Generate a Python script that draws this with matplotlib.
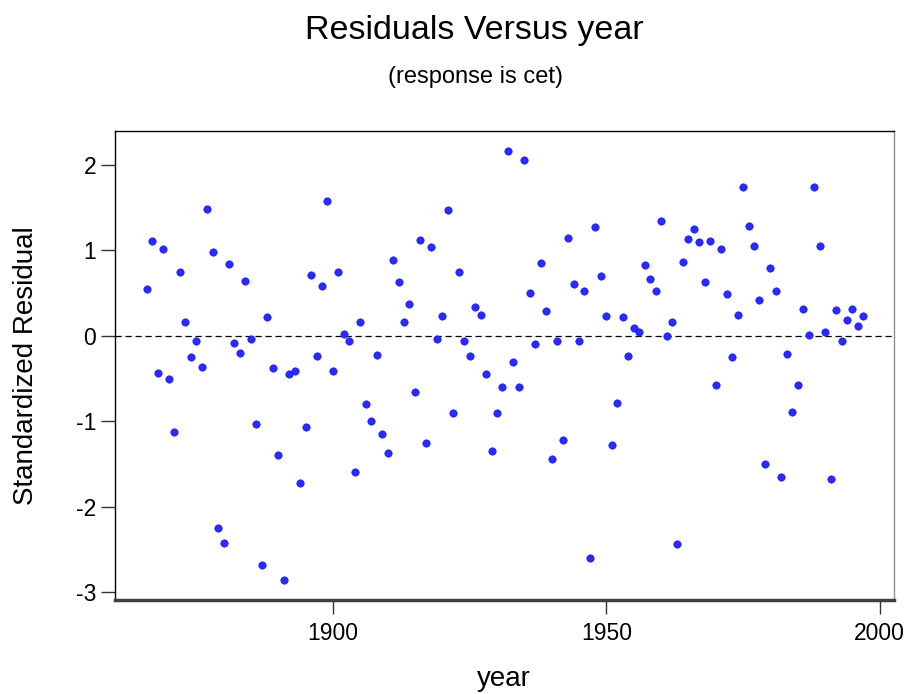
from matplotlib import pyplot as plt

plt.rcParams['font.family'] = ['Liberation Sans', 'DejaVu Sans']
plt.rcParams['axes.unicode_minus'] = False

years = list(range(1866, 1998))
residuals = [
    0.55, 1.11, -0.43, 1.02, -0.50, -1.13, 0.75, 0.16, -0.25, -0.06,
    -0.36, 1.48, 0.98, -2.25, -2.42, 0.84, -0.08, -0.20, 0.64, -0.04,
    -1.03, -2.68, 0.22, -0.37, -1.39, -2.85, -0.44, -0.41, -1.72, -1.07,
    0.71, -0.23, 0.58, 1.58, -0.41, 0.75, 0.02, -0.06, -1.59, 0.16,
    -0.80, -1.00, -0.22, -1.15, -1.37, 0.89, 0.63, 0.16, 0.37, -0.66,
    1.12, -1.25, 1.04, -0.04, 0.23, 1.47, -0.90, 0.75, -0.06, -0.24,
    0.34, 0.25, -0.44, -1.35, -0.90, -0.60, 2.16, -0.31, -0.60, 2.06,
    0.50, -0.10, 0.85, 0.29, -1.44, -0.06, -1.22, 1.15, 0.61, -0.06,
    0.52, -2.60, 1.27, 0.70, 0.23, -1.28, -0.79, 0.22, -0.24, 0.09,
    0.04, 0.83, 0.67, 0.52, 1.34, 0.00, 0.16, -2.44, 0.87, 1.13,
    1.25, 1.10, 0.63, 1.11, -0.58, 1.02, 0.49, -0.25, 0.25, 1.74,
    1.28, 1.05, 0.42, -1.50, 0.80, 0.52, -1.65, -0.21, -0.89, -0.58,
    0.31, 0.01, 1.74, 1.05, 0.04, -1.67, 0.30, -0.06, 0.19, 0.32,
    0.11, 0.23,
]
x_ticks = [1900, 1950, 2000]
y_ticks = [-3, -2, -1, 0, 1, 2]

fig = plt.figure(figsize=(9.09, 6.94), dpi=100)
ax = fig.add_axes([0.1262, 0.1354, 0.8573, 0.6762])

ax.scatter(years, residuals, s=28, color='#2a2aff', edgecolors='#1a1aee',
           linewidths=0.5, zorder=3)
ax.axhline(0, color='black', lw=0.9, ls=(0, (5, 3)), zorder=2)

ax.set_xlim(1860.1, 2002.6)
ax.set_ylim(-3.09, 2.40)
ax.set_xticks(x_ticks)
ax.set_yticks(y_ticks)
ax.set_yticklabels([str(t) for t in y_ticks])
ax.tick_params(axis='both', direction='out', length=10.4, width=1,
               labelsize=16.5, color='#333333')
ax.tick_params(axis='x', pad=5.5)
ax.tick_params(axis='y', pad=3)

for side in ['top', 'left']:
    ax.spines[side].set_color('black')
    ax.spines[side].set_linewidth(1)
ax.spines['right'].set_color('#909090')
ax.spines['right'].set_linewidth(1)
ax.spines['bottom'].set_color('#404040')
ax.spines['bottom'].set_linewidth(2.5)

ax.set_xlabel('year', fontsize=20)
ax.xaxis.set_label_coords(0.5, -0.140)
ax.set_ylabel('Standardized Residual', fontsize=20)
ax.yaxis.set_label_coords(-0.0974, 0.5)

fig.text(0.522, 0.944, 'Residuals Versus year', ha='center', va='baseline',
         fontsize=24.5)
fig.text(0.5235, 0.880, '(response is cet)', ha='center', va='baseline',
         fontsize=17)

fig.savefig('out.png', dpi=100)
